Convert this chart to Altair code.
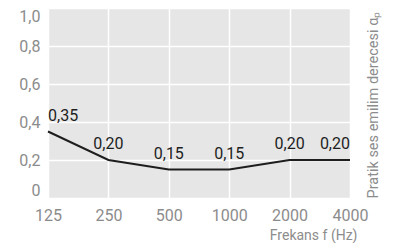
import altair as alt
import pandas as pd

freqs = ["125", "250", "500", "1000", "2000", "4000"]
values = [0.35, 0.20, 0.15, 0.15, 0.20, 0.20]
labels = ["0,35", "0,20", "0,15", "0,15", "0,20", "0,20"]
aligns = ["left", "center", "center", "center", "center", "right"]
y_ticks = [0, 0.2, 0.4, 0.6, 0.8, 1.0]

df = pd.DataFrame({"f": freqs, "v": values, "lab": labels, "al": aligns})

FONT = "Roboto"
GREY = "#8c8c8c"

x = alt.X("f:N", sort=freqs, scale=alt.Scale(type="point", padding=0),
          axis=alt.Axis(title="Frekans f (Hz)", labelAngle=0, labelFontSize=16,
                        labelColor=GREY, labelPadding=9, ticks=False, domain=False,
                        labelOverlap=False,
                        grid=True, gridColor="white", gridWidth=1.5,
                        titleFontSize=14, titleColor=GREY, titleFontWeight="normal",
                        titleAlign="right", titleAnchor="end", titleX=309, titleY=37,
                        titleBaseline="middle", labelFont=FONT, titleFont=FONT))
y = alt.Y("v:Q", scale=alt.Scale(domain=[0, 1]),
          axis=alt.Axis(values=y_ticks, title="Pratik ses emilim derecesi αₚ",
                        labelExpr="datum.value == 0 ? '0' : replace(format(datum.value, '.1f'), '.', ',')",
                        labelFontSize=16, labelColor=GREY, labelPadding=8, labelFlush=True,
                        labelOverlap=False, labelBound=False,
                        ticks=False, domain=False, grid=True, gridColor="white", gridWidth=1.5,
                        titleFontSize=14.5, titleColor=GREY, titleFontWeight="normal",
                        titleAngle=-90, titleAlign="left", titleBaseline="middle",
                        titleX=325, titleY=190, labelFont=FONT, titleFont=FONT))

line = alt.Chart(df).mark_line(color="#1e1e1e", strokeWidth=2).encode(x=x, y=y)

def txt(al):
    return alt.Chart(df).transform_filter(alt.datum.al == al).mark_text(
        align=al, baseline="bottom", dy=-8, fontSize=16, color="#1e1e1e", font=FONT
    ).encode(x=x, y=y, text="lab:N")

chart = alt.layer(line, txt("left"), txt("center"), txt("right")).properties(
    width=302, height=190,
    autosize=alt.AutoSizeParams(type="none"),
    padding={"left": 40, "top": 0, "right": 43, "bottom": 45},
).configure_view(fill="#e6e6e6", stroke=None)

chart.save("out.html", embed_options={"renderer": "svg", "actions": False})
